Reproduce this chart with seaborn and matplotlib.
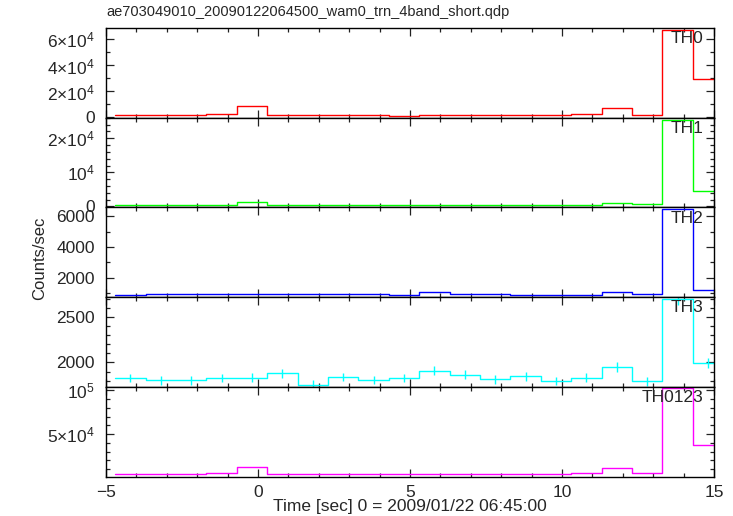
import numpy as np
import pandas as pd
import matplotlib
matplotlib.use("Agg")
import matplotlib.pyplot as plt
from matplotlib.ticker import MultipleLocator, FixedLocator, FuncFormatter
import seaborn as sns

# light curve of the WAM transient, 1 s bins, four energy bands + sum
time_edges = [-4.7, -3.7, -2.7, -1.7, -0.7, 0.3, 1.3, 2.3, 3.3, 4.3, 5.3,
              6.3, 7.3, 8.3, 9.3, 10.3, 11.3, 12.3, 13.3, 14.3, 15.3]
time_centers = [-4.2, -3.2, -2.2, -1.2, -0.2, 0.8, 1.8, 2.8, 3.8, 4.8,
                5.8, 6.8, 7.8, 8.8, 9.8, 10.8, 11.8, 12.8, 13.8, 14.8]

th0 = [1700, 1700, 1700, 2300, 8500, 1800, 1800, 1800, 1800, 1300,
       1800, 1800, 1800, 1800, 1800, 2600, 7200, 2100, 67400, 29700]
th1 = [450, 450, 450, 550, 1350, 500, 500, 500, 500, 450,
       500, 500, 500, 450, 450, 550, 1150, 650, 25300, 4500]
th2 = [865, 930, 930, 930, 950, 930, 930, 930, 930, 865,
       1060, 950, 950, 865, 865, 865, 1080, 930, 6450, 1230]
th3 = [1829, 1803, 1803, 1829, 1833, 1878, 1756, 1840, 1807, 1829,
       1911, 1866, 1814, 1848, 1796, 1833, 1948, 1792, 2700, 1992]
th3_err = [48, 47, 47, 48, 48, 49, 46, 48, 47, 48,
           50, 49, 47, 48, 47, 48, 52, 47, 64, 54]
th0123 = [4170, 4170, 4170, 5300, 12100, 4550, 4550, 4550, 4550, 4550,
          4550, 4550, 4550, 4550, 4550, 5680, 11000, 5300, 103000, 37100]

bands = ["TH0", "TH1", "TH2", "TH3", "TH0123"]
rates = [th0, th1, th2, th3, th0123]
colors = ["#ff0000", "#00ff00", "#0000ff", "#00ffff", "#ff00ff"]
ylims = [(-200, 68800), (-300, 26000), (734, 6580), (1729, 2722), (1480, 103750)]
major_y = [[0, 20000, 40000, 60000], [0, 10000, 20000], [2000, 4000, 6000],
           [2000, 2500], [50000, 100000]]
minor_y = [10000, 2000, 1000, 100, 10000]

sns.set_theme(style="ticks")
plt.rcParams["font.family"] = ["Liberation Sans", "DejaVu Sans"]
plt.rcParams["mathtext.fontset"] = "custom"
plt.rcParams["mathtext.rm"] = "Liberation Sans"
plt.rcParams["mathtext.it"] = "Liberation Sans"
plt.rcParams["axes.unicode_minus"] = True


def sci_label(v, pos):
    if v == 0:
        return "0"
    if v < 10000:
        return f"{int(v)}"
    exp = int(np.floor(np.log10(v)))
    mant = v / 10 ** exp
    if abs(mant - 1) < 1e-6:
        return rf"$10^{{{exp}}}$"
    return rf"${int(round(mant))}{{\times}}10^{{{exp}}}$"


fig, axes = plt.subplots(5, 1, figsize=(7.33, 5.16), dpi=100, sharex=True)
fig.subplots_adjust(left=106 / 733, right=714 / 733, top=1 - 28 / 516,
                    bottom=1 - 476.7 / 516, hspace=0)

for i, ax in enumerate(axes):
    df = pd.DataFrame({"time": time_centers, "rate": rates[i]})
    sns.histplot(data=df, x="time", weights="rate", bins=time_edges,
                 element="step", fill=False, color=colors[i], linewidth=1.0,
                 ax=ax)
    if bands[i] == "TH3":
        ax.errorbar(time_centers, th3, yerr=th3_err, fmt="none",
                    ecolor=colors[i], elinewidth=1.0, capsize=0)
    ax.set_xlim(-5, 15)
    ax.set_ylim(*ylims[i])
    ax.set_ylabel("")
    ax.set_xlabel("")
    ax.yaxis.set_major_locator(FixedLocator(major_y[i]))
    ax.yaxis.set_minor_locator(MultipleLocator(minor_y[i]))
    ax.yaxis.set_major_formatter(FuncFormatter(sci_label))
    ax.xaxis.set_major_locator(MultipleLocator(5))
    ax.xaxis.set_minor_locator(MultipleLocator(1))
    ax.tick_params(which="both", direction="in", top=True, right=True,
                   width=0.9, color="#222222", labelsize=12.5)
    ax.tick_params(axis="y", pad=8)
    ax.tick_params(axis="x", pad=6)
    ax.tick_params(which="major", length=6)
    ax.tick_params(which="minor", length=3)
    for s in ax.spines.values():
        s.set_linewidth(1.0)
        s.set_color("black")
    ax.text(0.983, 0.965, bands[i], transform=ax.transAxes, ha="right",
            va="top", fontsize=12.5)

axes[-1].xaxis.set_major_formatter(FuncFormatter(lambda v, p: f"{int(v)}".replace("-", "\u2212")))

fig.text(106 / 733, 1 - 12 / 516,
         "ae703049010_20090122064500_wam0_trn_4band_short.qdp",
         ha="left", va="center", fontsize=10.5)
fig.text(410 / 733, 1 - 507 / 516, "Time [sec] 0 = 2009/01/22 06:45:00",
         ha="center", va="center", fontsize=12.5)
fig.text(40 / 733, 1 - 258 / 516, "Counts/sec", rotation=90,
         ha="center", va="center", fontsize=12)

plt.savefig("out.png", dpi=100)
